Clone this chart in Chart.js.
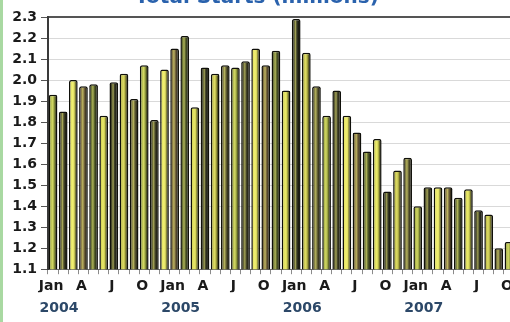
<!DOCTYPE html>
<html>
<head>
<meta charset="utf-8">
<script src="https://cdn.jsdelivr.net/npm/chart.js@4/dist/chart.umd.min.js"></script>
<style>
  html, body { margin: 0; padding: 0; background: #ffffff; }
  body { width: 510px; height: 322px; overflow: hidden; position: relative; }
  #wrap { position: absolute; left: 0; top: -22px; width: 520px; height: 340px; }
  #edge { position: absolute; left: 0; top: 0; width: 3px; height: 322px; background: #a9d9a2; z-index: 2; }
</style>
</head>
<body>
<div id="edge"></div>
<div id="wrap"><canvas id="c" width="520" height="340"></canvas></div>
<script>
// Monthly housing starts, millions of units (Jan 2004 – Oct 2007)
const years = ['2004', '2005', '2006', '2007'];
const monthNames = ['Jan','Feb','Mar','Apr','May','Jun','Jul','Aug','Sep','Oct','Nov','Dec'];
const monthTickLabels = ['Jan','','','A','','','J','','','O','',''];

const starts2004 = [1.93, 1.85, 2.00, 1.97, 1.98, 1.83, 1.99, 2.03, 1.91, 2.07, 1.81, 2.05];
const starts2005 = [2.15, 2.21, 1.87, 2.06, 2.03, 2.07, 2.06, 2.09, 2.15, 2.07, 2.14, 1.95];
const starts2006 = [2.29, 2.13, 1.97, 1.83, 1.95, 1.83, 1.75, 1.66, 1.72, 1.47, 1.57, 1.63];
const starts2007 = [1.40, 1.49, 1.49, 1.49, 1.44, 1.48, 1.38, 1.36, 1.20, 1.23];

const yTicks = { min: 1.1, max: 2.3, step: 0.1 };

// Build the category list and the flat value list
const seriesByYear = [starts2004, starts2005, starts2006, starts2007];
const categories = [];
const values = [];
seriesByYear.forEach((arr, yi) => {
  arr.forEach((v, mi) => {
    categories.push(monthNames[mi] + ' ' + years[yi]);
    values.push(v);
  });
});

// Bar tints, cycled across the months
const tones = ['#a6b048', '#4a4a2c', '#e2e064', '#7a6a40', '#5e6830', '#d4d456', '#3a3c26', '#bcba4a', '#6c683a'];

function mix(hex, target, t) {
  const a = parseInt(hex.slice(1), 16), b = parseInt(target.slice(1), 16);
  const ch = (n, s) => (n >> s) & 255;
  const r = Math.round(ch(a,16) + (ch(b,16) - ch(a,16)) * t);
  const g = Math.round(ch(a,8) + (ch(b,8) - ch(a,8)) * t);
  const bl = Math.round(ch(a,0) + (ch(b,0) - ch(a,0)) * t);
  return 'rgb(' + r + ',' + g + ',' + bl + ')';
}

const BAR_FRACTION = 0.86;

function barFill(ctx) {
  const tone = tones[ctx.dataIndex % tones.length];
  const chart = ctx.chart;
  const xs = chart.scales.x;
  if (!chart.chartArea || !xs || ctx.type !== 'data') return tone;
  const cx = xs.getPixelForValue(ctx.dataIndex);
  const w = (xs.width / categories.length) * BAR_FRACTION;
  const g = chart.ctx.createLinearGradient(cx - w / 2, 0, cx + w / 2, 0);
  g.addColorStop(0.0, mix(tone, '#000000', 0.3));
  g.addColorStop(0.2, tone);
  g.addColorStop(0.42, mix(tone, '#ffff80', 0.5));
  g.addColorStop(0.58, tone);
  g.addColorStop(0.8, mix(tone, '#000000', 0.6));
  g.addColorStop(1.0, '#0c0c06');
  return g;
}

const ctx = document.getElementById('c').getContext('2d');
new Chart(ctx, {
  type: 'bar',
  data: {
    labels: categories,
    datasets: [{
      data: values,
      backgroundColor: barFill,
      borderColor: '#10100a',
      borderWidth: 1.5,
      borderSkipped: 'bottom',
      borderRadius: { topLeft: 2, topRight: 2 },
      categoryPercentage: 1,
      barPercentage: BAR_FRACTION
    }]
  },
  options: {
    responsive: false,
    animation: false,
    devicePixelRatio: 1,
    layout: { padding: { left: 0, right: 6, top: 0, bottom: 1 } },
    plugins: {
      legend: { display: false },
      tooltip: { enabled: false },
      title: {
        display: true,
        text: 'Total Starts (millions)',
        color: '#2a62ad',
        font: { family: 'DejaVu Sans', size: 20, weight: 'bold' },
        padding: { top: 8, bottom: -1 }
      }
    },
    scales: {
      top: {
        type: 'category',
        position: 'top',
        labels: categories,
        ticks: { display: false },
        grid: { display: false },
        border: { display: true, color: '#555555', width: 2 }
      },
      x: {
        type: 'category',
        position: 'bottom',
        offset: true,
        afterFit: (s) => { s.height = 23; },
        ticks: {
          autoSkip: false,
          maxRotation: 0,
          minRotation: 0,
          padding: 5,
          labelOffset: -2,
          color: '#1a1a1a',
          font: { family: 'DejaVu Sans', size: 14, weight: 'bold', lineHeight: 1 },
          callback: (v, i) => monthTickLabels[i % 12]
        },
        grid: { drawOnChartArea: false, drawTicks: true, tickLength: 5, color: '#8a8a8a' },
        border: { display: true, color: '#6a6a6a', width: 1 }
      },
      x2: {
        type: 'category',
        position: 'bottom',
        labels: categories,
        offset: true,
        ticks: {
          autoSkip: false,
          maxRotation: 0,
          minRotation: 0,
          padding: 0,
          labelOffset: 6,
          color: '#2c4868',
          font: { family: 'DejaVu Sans', size: 14, weight: 'bold' },
          callback: (v, i) => (i % 12 === 0 ? years[Math.floor(i / 12)] : '')
        },
        grid: { display: false },
        border: { display: false }
      },
      y: {
        min: yTicks.min,
        max: yTicks.max,
        afterFit: (s) => { s.width = 48; },
        ticks: {
          stepSize: yTicks.step,
          padding: 4,
          color: '#1a1a1a',
          font: { family: 'DejaVu Sans', size: 14, weight: 'bold' },
          callback: (v) => Number(v).toFixed(1)
        },
        grid: { color: '#d9d9d9', lineWidth: 1, tickLength: 7, tickColor: '#555555' },
        border: { display: true, color: '#3a3a3a', width: 2 }
      }
    }
  }
});
</script>
</body>
</html>
